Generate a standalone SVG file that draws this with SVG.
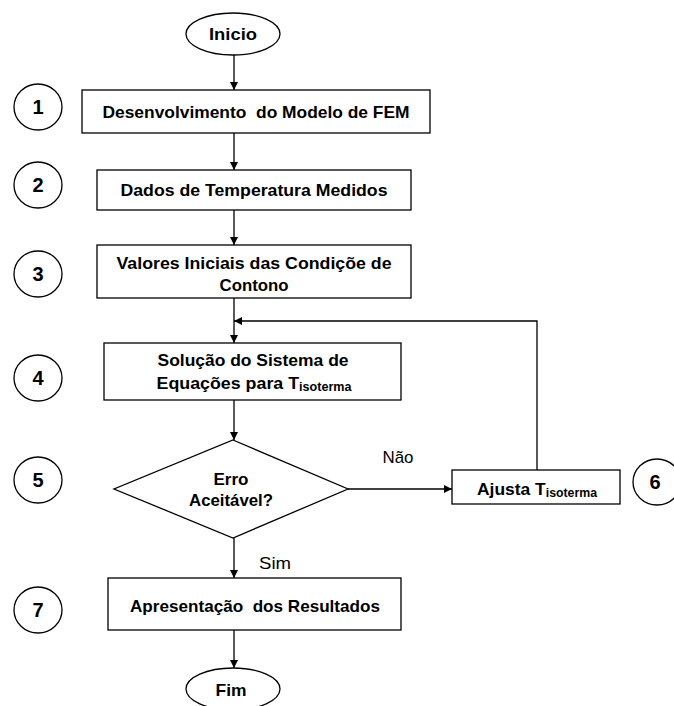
<svg xmlns="http://www.w3.org/2000/svg" width="674" height="706" viewBox="0 0 674 706">
<style>
.s{fill:#fff;stroke:#000;stroke-width:1.3}
.t{font-family:"Liberation Sans Narrow","Liberation Sans",Arial,sans-serif;font-weight:bold;font-size:17px;text-anchor:middle;fill:#000}
.n{font-family:"Liberation Sans Narrow","Liberation Sans",Arial,sans-serif;font-weight:bold;font-size:20px;text-anchor:middle;fill:#000}
.l{font-family:"Liberation Sans Narrow","Liberation Sans",Arial,sans-serif;font-size:17px;text-anchor:middle;fill:#000}
.c{fill:none;stroke:#000;stroke-width:1.3}
.p{white-space:pre}
</style>
<defs>
<marker id="a" viewBox="0 0 10 10" refX="10" refY="5" markerWidth="8" markerHeight="8" markerUnits="userSpaceOnUse" orient="auto"><path d="M0,0 L10,5 L0,10 z" fill="#000"/></marker>
</defs>
<g id="connectors">
<line class="c" x1="234" y1="55" x2="234" y2="90" marker-end="url(#a)"/>
<line class="c" x1="234" y1="133" x2="234" y2="170" marker-end="url(#a)"/>
<line class="c" x1="234" y1="210" x2="234" y2="245" marker-end="url(#a)"/>
<line class="c" x1="234" y1="298" x2="234" y2="343" marker-end="url(#a)"/>
<polyline class="c" points="537,470 537,321 234,321" marker-end="url(#a)"/>
<line class="c" x1="234" y1="400" x2="234" y2="440" marker-end="url(#a)"/>
<line class="c" x1="348" y1="489" x2="452" y2="489" marker-end="url(#a)"/>
<line class="c" x1="234" y1="538" x2="234" y2="578" marker-end="url(#a)"/>
<line class="c" x1="234" y1="630" x2="234" y2="668" marker-end="url(#a)"/>
<text class="l" x="398" y="463" textLength="31" lengthAdjust="spacingAndGlyphs">Não</text>
<text class="l" x="275" y="569" textLength="32" lengthAdjust="spacingAndGlyphs">Sim</text>
</g>
<g id="inicio"><ellipse class="s" cx="233" cy="34" rx="47" ry="21"/><text class="t" x="233" y="40" textLength="48" lengthAdjust="spacingAndGlyphs">Inicio</text></g>
<g id="n1"><rect class="s" x="82" y="90" width="348" height="43"/><text class="t p" x="256" y="118" textLength="307" lengthAdjust="spacingAndGlyphs">Desenvolvimento  do Modelo de FEM</text></g>
<g id="n2"><rect class="s" x="97" y="170" width="314" height="40"/><text class="t" x="254" y="196" textLength="267" lengthAdjust="spacingAndGlyphs">Dados de Temperatura Medidos</text></g>
<g id="n3"><rect class="s" x="97" y="245" width="314" height="53"/><text class="t" x="254" y="269" textLength="275" lengthAdjust="spacingAndGlyphs">Valores Iniciais das Condiçõe de</text><text class="t" x="254" y="291" textLength="69" lengthAdjust="spacingAndGlyphs">Contono</text></g>
<g id="n4"><rect class="s" x="104" y="343" width="297" height="57"/><text class="t" x="253" y="366" textLength="191" lengthAdjust="spacingAndGlyphs">Solução do Sistema de</text><text class="t" x="254" y="389" textLength="195" lengthAdjust="spacingAndGlyphs">Equações para T<tspan font-size="12" dy="2">isoterma</tspan></text></g>
<g id="n5"><polygon class="s" points="233,440 348,489 233,538 114,489"/><text class="t" x="231" y="485" textLength="35" lengthAdjust="spacingAndGlyphs">Erro</text><text class="t" x="231" y="506" textLength="84" lengthAdjust="spacingAndGlyphs">Aceitável?</text></g>
<g id="n6"><rect class="s" x="452" y="470" width="168" height="34"/><text class="t" x="537" y="495" textLength="120" lengthAdjust="spacingAndGlyphs">Ajusta T<tspan font-size="12" dy="2">isoterma</tspan></text></g>
<g id="n7"><rect class="s" x="108" y="578" width="293" height="52"/><text class="t p" x="255" y="612" textLength="250" lengthAdjust="spacingAndGlyphs">Apresentação  dos Resultados</text></g>
<g id="fim"><ellipse class="s" cx="233" cy="689" rx="47" ry="21"/><text class="t" x="231" y="696" textLength="31" lengthAdjust="spacingAndGlyphs">Fim</text></g>
<g id="c1"><ellipse class="s" cx="38" cy="107" rx="24" ry="23"/><text class="n" x="38" y="114">1</text></g>
<g id="c2"><ellipse class="s" cx="38" cy="185" rx="24" ry="23"/><text class="n" x="38" y="192">2</text></g>
<g id="c3"><ellipse class="s" cx="38" cy="274" rx="24" ry="23"/><text class="n" x="38" y="281">3</text></g>
<g id="c4"><ellipse class="s" cx="38" cy="378" rx="24" ry="23"/><text class="n" x="38" y="385">4</text></g>
<g id="c5"><ellipse class="s" cx="38" cy="480" rx="24" ry="23"/><text class="n" x="38" y="487">5</text></g>
<g id="c6"><ellipse class="s" cx="657" cy="482" rx="24" ry="23"/><text class="n" x="655" y="489">6</text></g>
<g id="c7"><ellipse class="s" cx="38" cy="610" rx="24" ry="23"/><text class="n" x="38" y="617">7</text></g>
</svg>
